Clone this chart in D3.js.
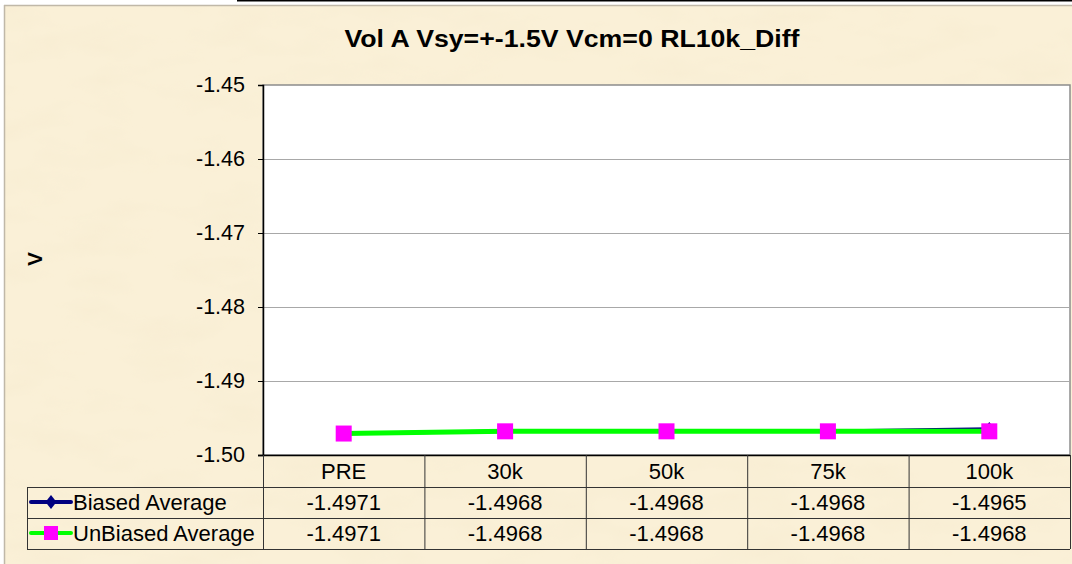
<!DOCTYPE html>
<html>
<head>
<meta charset="utf-8">
<script src="https://cdn.jsdelivr.net/npm/d3@7"></script>
<style>
  html, body { margin: 0; padding: 0; background: #fff; }
  svg { display: block; font-family: "Liberation Sans", Arial, sans-serif; }
</style>
</head>
<body>
<svg width="1072" height="564"></svg>
<script>
'use strict'

const TITLE = 'Vol A Vsy=+-1.5V Vcm=0 RL10k_Diff';
const categories = ['PRE', '30k', '50k', '75k', '100k'];
const biased = [-1.4971, -1.4968, -1.4968, -1.4968, -1.4965];
const unbiased = [-1.4971, -1.4968, -1.4968, -1.4968, -1.4968];
const yTicks = [-1.50, -1.49, -1.48, -1.47, -1.46, -1.45];
const seriesNames = ['Biased Average', 'UnBiased Average'];

const svg = d3.select('svg');
const defs = svg.append('defs');

// parchment texture (darker mottling on a pale base)
const f = defs.append('filter').attr('id', 'parch')
  .attr('x', 0).attr('y', 0).attr('width', '100%').attr('height', '100%');
f.append('feTurbulence').attr('type', 'fractalNoise')
  .attr('baseFrequency', '0.015 0.035').attr('numOctaves', 3).attr('seed', 11)
  .attr('result', 'noise');
f.append('feColorMatrix').attr('in', 'noise').attr('type', 'matrix')
  .attr('values', '0 0 0 0 0.93  0 0 0 0 0.84  0 0 0 0 0.64  1.4 0 0 0 -0.62')
  .attr('result', 'spots');
f.append('feComposite').attr('in', 'spots').attr('in2', 'SourceGraphic').attr('operator', 'in');

const pLeft = 263, pRight = 1070, pTop = 85, pBottom = 455;

svg.append('rect').attr('x', 5).attr('y', 6).attr('width', 1067).attr('height', 558)
  .attr('fill', '#faf0d7');
svg.append('rect').attr('x', 5).attr('y', 6).attr('width', 1067).attr('height', 558)
  .attr('fill', '#fff').attr('filter', 'url(#parch)');

// frame lines
svg.append('line').attr('x1', 237).attr('x2', 1072).attr('y1', 0.5).attr('y2', 0.5)
  .attr('stroke', '#000').attr('stroke-width', 2);
svg.append('line').attr('x1', 4.5).attr('x2', 4.5).attr('y1', 5).attr('y2', 564)
  .attr('stroke', '#c0b8a8').attr('stroke-width', 1.5);
svg.append('line').attr('x1', 4).attr('x2', 1072).attr('y1', 5.5).attr('y2', 5.5)
  .attr('stroke', '#c0b8a8').attr('stroke-width', 1.5);

const x = d3.scaleBand().domain(categories).range([pLeft, pRight]);
const y = d3.scaleLinear().domain([-1.50, -1.45]).range([pBottom, pTop]);
const cx = d => x(d) + x.bandwidth() / 2;

// plot area
svg.append('rect').attr('x', pLeft).attr('y', pTop)
  .attr('width', pRight - pLeft).attr('height', pBottom - pTop)
  .attr('fill', '#fff').attr('stroke', '#8c8c8c').attr('stroke-width', 1.5);

svg.append('g').selectAll('line')
  .data(yTicks.slice(1, -1))
  .join('line')
  .attr('x1', pLeft).attr('x2', pRight)
  .attr('y1', d => Math.round(y(d)) + 0.5).attr('y2', d => Math.round(y(d)) + 0.5)
  .attr('stroke', '#a8a8a8').attr('stroke-width', 1);

// y axis
const yAxis = svg.append('g').attr('transform', `translate(${pLeft},0)`)
  .call(d3.axisLeft(y).tickValues(yTicks).tickFormat(d3.format('.2f'))
    .tickSize(5).tickPadding(13));
yAxis.select('.domain').attr('stroke', '#000').attr('stroke-width', 1.5);
yAxis.selectAll('.tick line').attr('stroke', '#000');
yAxis.selectAll('.tick text').attr('font-size', 21.5).attr('fill', '#000')
  .attr('font-family', '"Liberation Sans", Arial, sans-serif')
  .text(d => d3.format('.2f')(d).replace('−', '-'));
svg.append('line').attr('x1', pLeft - 5).attr('x2', pRight).attr('y1', pBottom + 0.5).attr('y2', pBottom + 0.5)
  .attr('stroke', '#000').attr('stroke-width', 1.5);

// title
svg.append('text').attr('x', 572).attr('y', 47).attr('text-anchor', 'middle')
  .attr('font-weight', 'bold').attr('font-size', 23)
  .attr('textLength', 455).attr('lengthAdjust', 'spacingAndGlyphs')
  .text(TITLE);

// y label
svg.append('text').attr('transform', 'translate(42,259) rotate(-90)')
  .attr('text-anchor', 'middle').attr('font-weight', 'bold').attr('font-size', 21)
  .text('V');

// lines and markers
const line = d3.line().x((d, i) => cx(categories[i])).y(d => y(d));
const diamond = 'M0,-7L5.5,0L0,7L-5.5,0Z';

svg.append('path').datum(biased).attr('d', line)
  .attr('fill', 'none').attr('stroke', '#000080').attr('stroke-width', 3.5);
svg.append('g').selectAll('path').data(biased).join('path')
  .attr('d', diamond)
  .attr('transform', (d, i) => `translate(${cx(categories[i])},${y(d)})`)
  .attr('fill', '#000080');

svg.append('path').datum(unbiased).attr('d', line)
  .attr('fill', 'none').attr('stroke', '#00ff00').attr('stroke-width', 5);
svg.append('g').selectAll('rect').data(unbiased).join('rect')
  .attr('x', (d, i) => cx(categories[i]) - 8).attr('y', d => y(d) - 8)
  .attr('width', 16).attr('height', 16).attr('fill', '#ff00ff');

// data table
const rowTop = [457, 487, 518, 549];
const tbl = svg.append('g').attr('stroke', '#333').attr('stroke-width', 1);
x.domain().concat(['end']).forEach((c, i) => {
  const xx = i < categories.length ? x(c) : pRight;
  tbl.append('line').attr('x1', xx + 0.5).attr('x2', xx + 0.5)
    .attr('y1', pBottom).attr('y2', rowTop[3]);
});
[1, 2, 3].forEach(r => {
  tbl.append('line').attr('x1', 27).attr('x2', pRight).attr('y1', rowTop[r] + 0.5).attr('y2', rowTop[r] + 0.5);
});
tbl.append('line').attr('x1', 27.5).attr('x2', 27.5).attr('y1', rowTop[1]).attr('y2', rowTop[3]);

svg.append('g').selectAll('text').data(categories).join('text')
  .attr('x', d => cx(d)).attr('y', 479).attr('text-anchor', 'middle')
  .attr('font-size', 22).text(d => d);

[biased, unbiased].forEach((vals, r) => {
  const ty = rowTop[r + 1] + 23;
  svg.append('g').selectAll('text').data(vals).join('text')
    .attr('x', (d, i) => cx(categories[i])).attr('y', ty).attr('text-anchor', 'middle')
    .attr('font-size', 22).text(d => d3.format('.4f')(d).replace('−', '-'));
  svg.append('text').attr('x', 73).attr('y', ty).attr('font-size', 22).text(seriesNames[r]);
});

// legend keys
const ly1 = 502, ly2 = 533;
svg.append('line').attr('x1', 31).attr('x2', 71).attr('y1', ly1).attr('y2', ly1)
  .attr('stroke', '#000080').attr('stroke-width', 4).attr('stroke-linecap', 'round');
svg.append('path').attr('d', diamond)
  .attr('transform', `translate(51,${ly1})`).attr('fill', '#000080');
svg.append('line').attr('x1', 31).attr('x2', 71).attr('y1', ly2).attr('y2', ly2)
  .attr('stroke', '#00ff00').attr('stroke-width', 4).attr('stroke-linecap', 'round');
svg.append('rect').attr('x', 44).attr('y', ly2 - 7).attr('width', 14).attr('height', 14)
  .attr('fill', '#ff00ff');
</script>
</body>
</html>
